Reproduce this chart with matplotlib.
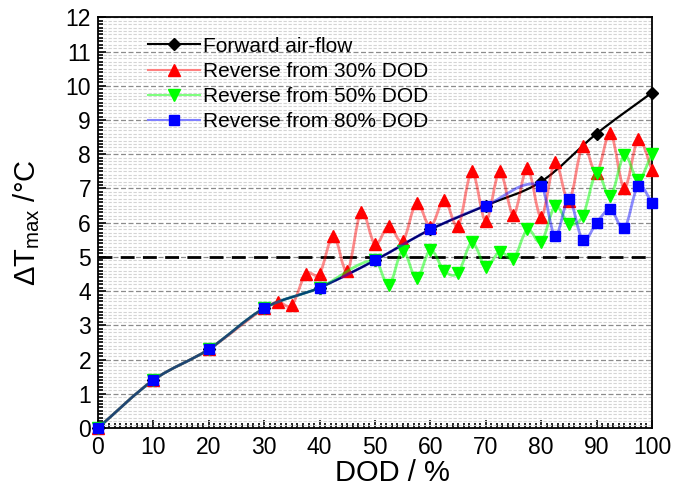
import matplotlib
matplotlib.use("Agg")
import matplotlib.pyplot as plt
from matplotlib.path import Path
from matplotlib.patches import PathPatch
from matplotlib.lines import Line2D
from matplotlib.ticker import MultipleLocator

plt.rcParams['font.family'] = ['Liberation Sans', 'DejaVu Sans']
plt.rcParams['mathtext.fontset'] = 'custom'
plt.rcParams['mathtext.rm'] = 'Liberation Sans'
plt.rcParams['mathtext.it'] = 'Liberation Sans'

# data
dod_fwd = [0, 10, 20, 30, 40, 50, 60, 70, 80, 90, 100]
dt_fwd = [0, 1.4, 2.3, 3.5, 4.1, 4.9, 5.8, 6.5, 7.2, 8.6, 9.8]

dod_r30 = [0, 10, 20, 30, 32.5, 35, 37.5, 40, 42.5, 45, 47.5, 50, 52.5, 55,
           57.5, 60, 62.5, 65, 67.5, 70, 72.5, 75, 77.5, 80, 82.5, 85, 87.5,
           90, 92.5, 95, 97.5, 100]
dt_r30 = [0, 1.4, 2.3, 3.5, 3.68, 3.59, 4.5, 4.51, 5.62, 4.58, 6.32, 5.37,
          5.91, 5.45, 6.58, 5.88, 6.67, 5.9, 7.5, 6.04, 7.5, 6.23, 7.6, 6.17,
          7.77, 6.62, 8.25, 7.45, 8.62, 7.01, 8.43, 7.55]

dod_r50 = [0, 10, 20, 30, 40, 50, 52.5, 55, 57.5, 60, 62.5, 65, 67.5, 70,
           72.5, 75, 77.5, 80, 82.5, 85, 87.5, 90, 92.5, 95, 97.5, 100]
dt_r50 = [0, 1.4, 2.3, 3.5, 4.1, 4.9, 4.17, 5.18, 4.37, 5.2, 4.59, 4.53,
          5.42, 4.71, 5.15, 4.95, 5.8, 5.43, 6.48, 5.97, 6.19, 7.46, 6.77,
          7.97, 7.25, 8.0]

dod_r80 = [0, 10, 20, 30, 40, 50, 60, 70, 80, 82.5, 85, 87.5, 90, 92.5, 95,
           97.5, 100]
dt_r80 = [0, 1.4, 2.3, 3.5, 4.1, 4.9, 5.8, 6.5, 7.08, 5.61, 6.68, 5.49, 6.0,
          6.39, 5.83, 7.08, 6.58]

labels = ["Forward air-flow", "Reverse from 30% DOD",
          "Reverse from 50% DOD", "Reverse from 80% DOD"]


def smooth_path(x, y):
    # cubic Hermite curve through the points, drawn as bezier segments
    n = len(x)
    m = []
    for i in range(n):
        if i == 0:
            m.append((y[1] - y[0]) / (x[1] - x[0]))
        elif i == n - 1:
            m.append((y[-1] - y[-2]) / (x[-1] - x[-2]))
        else:
            m.append((y[i + 1] - y[i - 1]) / (x[i + 1] - x[i - 1]))
    verts = [(x[0], y[0])]
    codes = [Path.MOVETO]
    for i in range(n - 1):
        h = (x[i + 1] - x[i]) / 3.0
        verts += [(x[i] + h, y[i] + m[i] * h),
                  (x[i + 1] - h, y[i + 1] - m[i + 1] * h),
                  (x[i + 1], y[i + 1])]
        codes += [Path.CURVE4] * 3
    return Path(verts, codes)


fig = plt.figure(figsize=(6.73, 4.95), dpi=100)
ax = fig.add_axes([0.1456, 0.1354, 0.8232, 0.8296])

# x, y, line colour, legend line colour, marker colour, marker, size, alpha, lw, zorder
series = [
    (dod_fwd, dt_fwd, 'black', 'black', 'black', 'D', 6.5, 1.0, 1.6, 2),
    (dod_r30, dt_r30, 'red', '#ff7f7f', 'red', '^', 9, 0.45, 2.0, 3),
    (dod_r50, dt_r50, '#00ff00', '#7fff7f', '#00ff00', 'v', 9, 0.5, 2.0, 4),
    (dod_r80, dt_r80, 'blue', '#7f7fff', 'blue', 's', 7.5, 0.45, 2.0, 5),
]

handles = []
for x, y, lc, lgc, mc, mk, ms, alpha, lw, z in series:
    patch = PathPatch(smooth_path(x, y), fill=False, edgecolor=lc,
                      alpha=alpha, lw=lw, zorder=z)
    ax.add_patch(patch)
    ax.plot(x, y, linestyle='none', marker=mk, color=mc, markersize=ms,
            zorder=z + 0.5, clip_on=False)
    handles.append(Line2D([], [], color=lgc, lw=1.5, marker=mk,
                          markersize=ms - 0.5, markerfacecolor=mc,
                          markeredgecolor=mc))

# threshold line
ax.axhline(5, color='black', linestyle=(0, (5, 3)), lw=2.0, zorder=1.5)

ax.set_xlim(0, 100)
ax.set_ylim(0, 12)
ax.xaxis.set_major_locator(MultipleLocator(10))
ax.xaxis.set_minor_locator(MultipleLocator(1))
ax.yaxis.set_major_locator(MultipleLocator(1))
ax.yaxis.set_minor_locator(MultipleLocator(0.1))

ax.grid(axis='y', which='major', color='#8c8c8c', linestyle=(0, (4, 2)),
        lw=0.9, zorder=0)
ax.grid(axis='y', which='minor', color='#d4d4d4', linestyle=(0, (3, 1.5)),
        lw=0.8, zorder=0)
ax.set_axisbelow(True)

ax.tick_params(which='both', direction='in', top=False, right=False,
               labelsize=16.5, width=1.2)
ax.tick_params(which='major', length=6)
ax.tick_params(axis='x', which='major', pad=6)
ax.tick_params(axis='y', which='major', pad=5)
ax.tick_params(which='minor', length=3.5)
for s in ax.spines.values():
    s.set_linewidth(1.3)

ax.set_xlabel("DOD / %", fontsize=21)
ax.xaxis.set_label_coords(0.532, -0.075)
ax.set_ylabel(r"$\Delta \mathrm{T_{max}}$ /°C", fontsize=21, labelpad=17)

ax.legend(handles, labels, loc='upper left', frameon=False, fontsize=15,
          handlelength=2.5, handletextpad=0.15, labelspacing=0.3,
          borderpad=0, borderaxespad=0, bbox_to_anchor=(0.09, 0.953))

fig.savefig("out.png", dpi=100)
